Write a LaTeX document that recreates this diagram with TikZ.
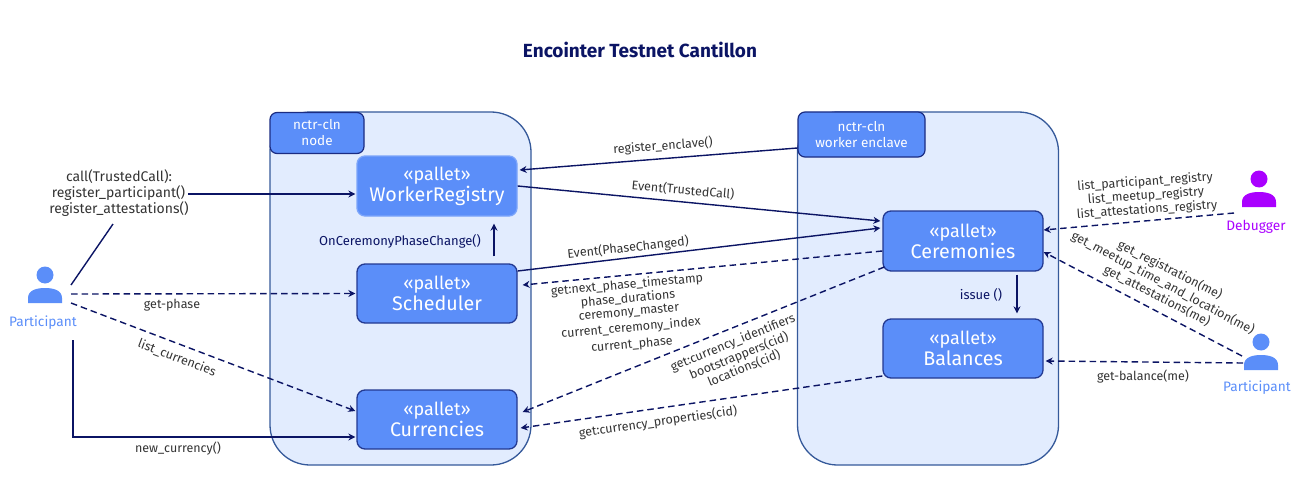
\documentclass[tikz,border=0pt]{standalone}
\usepackage{fontspec}
\setmainfont{Fira Sans}
\usetikzlibrary{arrows.meta}
\definecolor{navy}{HTML}{0B1464}
\definecolor{boxblue}{HTML}{5B8EF9}
\definecolor{paleblue}{HTML}{E2ECFE}
\definecolor{edgeblue}{HTML}{35599A}
\definecolor{debug}{HTML}{AA00FF}
\definecolor{txt}{HTML}{333333}
\tikzset{
	call/.style={draw=navy,line width=1.4pt,-{Stealth[length=7pt,width=7pt]}},
	query/.style={call,dash pattern=on 6.5pt off 4pt},
	enclosure/.style={draw=edgeblue,fill=paleblue,line width=1.3pt,rounded corners=40pt,minimum width=261pt,minimum height=353pt,inner sep=0pt},
	tab/.style={draw=navy!80!boxblue,fill=boxblue,line width=1.2pt,rounded corners=7pt,text=white,align=center,inner sep=0pt,font=\fontsize{13.5}{16}\selectfont},
	pallet/.style={draw=navy!70!boxblue,fill=boxblue,line width=1.3pt,rounded corners=8pt,text=white,align=center,inner sep=0pt,minimum width=160pt,minimum height=59pt,font=\fontsize{18}{21}\selectfont},
	lbl/.style={text=txt,inner sep=0pt,font=\fontsize{12.5}{16}\selectfont},
	navylbl/.style={lbl,text=navy,font=\fontsize{13}{16}\selectfont},
	calllbl/.style={lbl,font=\fontsize{14}{16}\selectfont},
	who/.style={inner sep=0pt,font=\fontsize{13.7}{16}\selectfont},
}
% name line of a pallet box
\def\palletname#1{{\fontsize{19.7}{21}\selectfont #1}}
% head and shoulders: #1 name, #2 x, #3 y of the head, #4 colour
\def\person#1#2#3#4{
	\node[circle,fill=#4,minimum size=17pt,inner sep=0pt] (#1) at (#2,#3) {};
	\fill[#4] (#2-17,#3+28) -- (#2-17,#3+23) .. controls (#2-17,#3+15) and (#2-8,#3+13) .. (#2,#3+13) .. controls (#2+8,#3+13) and (#2+17,#3+15) .. (#2+17,#3+23) -- (#2+17,#3+28) -- cycle;
}
\begin{document}
\begin{tikzpicture}[x=1pt,y=-1pt]
	\useasboundingbox (0,0) rectangle (1300,500);

	\node[font=\fontsize{19}{22}\selectfont\bfseries,text=navy] (title) at (640,50) {Encointer Testnet Cantillon};

	% enclosures
	\node[enclosure] (nodeBox) at (400.5,288.5) {};
	\node[enclosure] (enclaveBox) at (928,288.5) {};
	\node[tab,minimum width=94pt,minimum height=41pt] (nodeTab) at (317,133) {nctr-cln\\node};
	\node[tab,minimum width=127pt,minimum height=45pt] (enclaveTab) at (861.5,134.5) {nctr-cln\\worker enclave};

	% pallets
	\node[pallet,draw=boxblue!80!white,minimum height=60pt] (WorkerRegistry) at (437,186) {«pallet»\\\palletname{WorkerRegistry}};
	\node[pallet] (Scheduler) at (437,293.5) {«pallet»\\\palletname{Scheduler}};
	\node[pallet] (Currencies) at (437,419.5) {«pallet»\\\palletname{Currencies}};
	\node[pallet,minimum height=60pt] (Ceremonies) at (963,241) {«pallet»\\\palletname{Ceremonies}};
	\node[pallet] (Balances) at (963,348.5) {«pallet»\\\palletname{Balances}};

	% actors
	\person{partLeft}{45}{275}{boxblue}
	\node[who,text=boxblue] (partLeftLbl) at (43,323) {Participant};
	\person{debugger}{1259}{179}{debug}
	\node[who,text=debug] (debuggerLbl) at (1256,227) {Debugger};
	\person{partRight}{1261}{342}{boxblue}
	\node[who,text=boxblue] (partRightLbl) at (1257,388) {Participant};

	% free ends
	\coordinate (callEnd) at (188,194);
	\coordinate (callStart) at (71,285);
	\coordinate (callStop) at (113,224);
	\coordinate (phaseStart) at (71,294);
	\coordinate (listStart) at (71,303);
	\coordinate (newStart) at (73,340);
	\coordinate (debugStart) at (1234,213);
	\coordinate (meStart) at (1242,356);
	\coordinate (balStart) at (1243,363);

	% left participant
	\node[calllbl] (callA) at (119,177) {call(TrustedCall):};
	\node[calllbl] (callB) at (118.5,193) {register\_participant()};
	\node[calllbl] (callC) at (119,209) {register\_attestations()};
	\draw[navy,line width=1.4pt] (callStart) -- (callStop);
	\draw[call] (callEnd) -- ([xshift=-1pt,yshift=-8pt]WorkerRegistry.west);
	\draw[query] (phaseStart) -- ([xshift=-1pt]Scheduler.west);
	\node[lbl] (phaseLbl) at (172,305) {get-phase};
	\draw[query] (listStart) -- ([xshift=-1pt,yshift=8.5pt]Currencies.west);
	\node[lbl,rotate=-21] (listLbl) at (177,358) {list\_currencies};
	\draw[call] (newStart) |- ([xshift=-1pt,yshift=-17.5pt]Currencies.west);
	\node[lbl] (newLbl) at (178,449) {new\_currency()};

	% inside node
	\draw[call] ([xshift=57pt,yshift=7pt]Scheduler.north) -- ([xshift=57pt,yshift=-7pt]WorkerRegistry.south);
	\node[navylbl] (phaseChange) at (400,241) {OnCeremonyPhaseChange()};

	% between node and enclave
	\draw[call] ([yshift=-13.5pt]enclaveTab.west) -- ([xshift=2pt,yshift=16pt]WorkerRegistry.east);
	\node[lbl,rotate=4] (enclaveLbl) at (663,146) {register\_enclave()};
	\draw[call] (WorkerRegistry.east) -- ([xshift=-2pt,yshift=20pt]Ceremonies.west);
	\node[lbl,rotate=-5] (trustedLbl) at (683,190) {Event(TrustedCall)};
	\draw[call] ([yshift=22.5pt]Scheduler.east) -- ([xshift=-2pt,yshift=13pt]Ceremonies.west);
	\node[lbl,rotate=6] (changedLbl) at (628,248) {Event(PhaseChanged)};

	\draw[query] ([yshift=-10pt]Ceremonies.west) -- ([xshift=5pt,yshift=8.5pt]Scheduler.east);
	\node[lbl,rotate=5] (getA) at (627,285) {get:next\_phase\_timestamp};
	\node[lbl,rotate=5] (getB) at (628,299) {phase\_durations};
	\node[lbl,rotate=5] (getC) at (629,313) {ceremony\_master};
	\node[lbl,rotate=5] (getD) at (631,328) {current\_ceremony\_index};
	\node[lbl,rotate=5] (getE) at (632,345) {current\_phase};

	\draw[query] ([xshift=2pt,yshift=-26pt]Ceremonies.west) -- ([xshift=5pt,yshift=7.5pt]Currencies.east);
	\node[lbl,rotate=22] (curA) at (733,343) {get:currency\_identifiers};
	\node[lbl,rotate=22] (curB) at (739,356) {bootstrappers(cid)};
	\node[lbl,rotate=22] (curC) at (744,368) {locations(cid)};

	\draw[query] ([yshift=-27.5pt]Balances.west) -- ([xshift=3pt,yshift=-8.5pt]Currencies.east);
	\node[lbl,rotate=8] (propLbl) at (658,422) {get:currency\_properties(cid)};

	% inside enclave
	\draw[call] ([xshift=54pt,yshift=-3pt]Ceremonies.south) -- ([xshift=54pt,yshift=5pt]Balances.north);
	\node[navylbl] (issueLbl) at (981,295) {issue ()};

	% right side
	\draw[query] (debugStart) -- ([yshift=11pt]Ceremonies.east);
	\node[lbl,rotate=4] (regA) at (1145,182) {list\_participant\_registry};
	\node[lbl,rotate=4] (regB) at (1146,196) {list\_meetup\_registry};
	\node[lbl,rotate=4] (regC) at (1147,210) {list\_attestations\_registry};
	\draw[query] (meStart) -- ([yshift=-11pt]Ceremonies.east);
	\node[lbl,rotate=-27] (meA) at (1170,270) {get\_registration(me)};
	\node[lbl,rotate=-28] (meB) at (1163,283) {get\_meetup\_time\_and\_location(me)};
	\node[lbl,rotate=-27] (meC) at (1157,296) {get\_attestations(me)};
	\draw[query] (balStart) -- ([xshift=2pt,yshift=-12.5pt]Balances.east);
	\node[lbl] (balLbl) at (1143,377) {get-balance(me)};
\end{tikzpicture}
\end{document}
